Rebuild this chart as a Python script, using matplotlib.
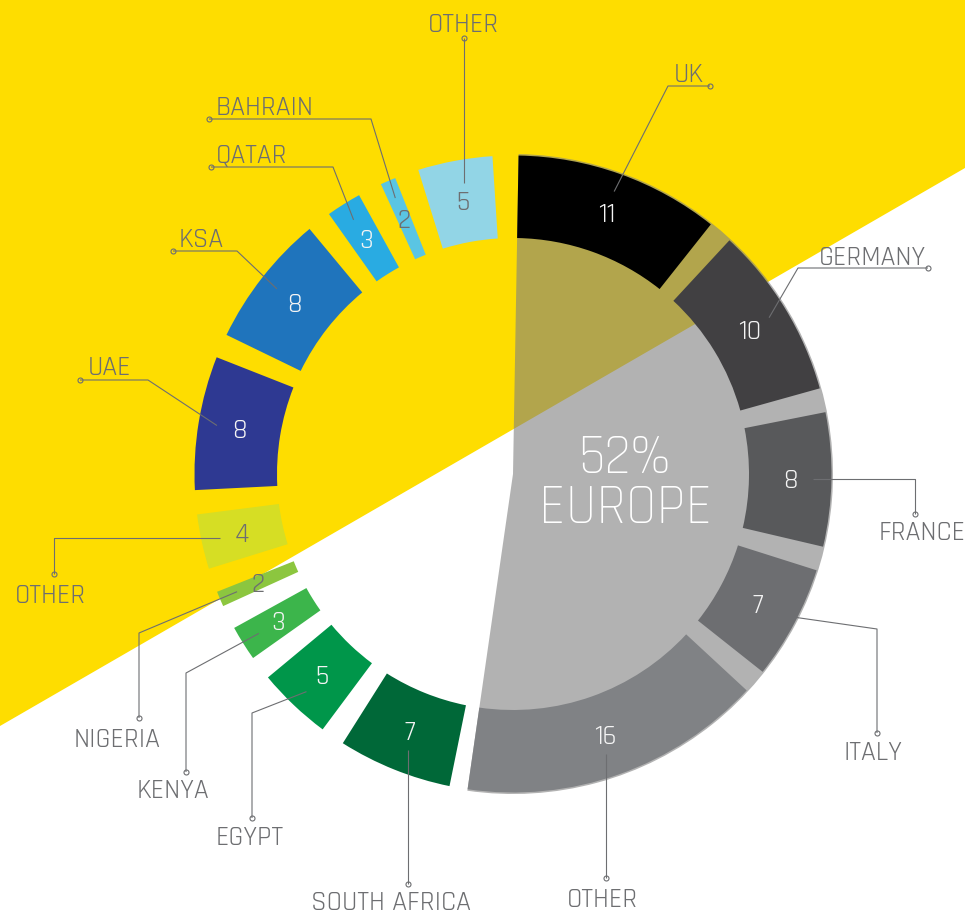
import numpy as np
import matplotlib
matplotlib.use("Agg")
import matplotlib.pyplot as plt
from matplotlib.patches import Wedge, Polygon

# ---------------- data ----------------
europe_labels = ["UK", "GERMANY", "FRANCE", "ITALY", "OTHER"]
europe_values = [11, 10, 8, 7, 16]
africa_labels = ["SOUTH AFRICA", "EGYPT", "KENYA", "NIGERIA", "OTHER"]
africa_values = [7, 5, 3, 2, 4]
me_labels = ["UAE", "KSA", "QATAR", "BAHRAIN", "OTHER"]
me_values = [8, 8, 3, 2, 5]
europe_share = 52  # percent
centre_text = ["52%", "EUROPE"]

# ---------------- styles ----------------
europe_colors = ["#000000", "#414042", "#58595b", "#6d6e71", "#808285"]
africa_colors = ["#006838", "#00964a", "#3cb54b", "#8cc63f", "#d6de24"]
me_colors = ["#2e3992", "#1f74bc", "#29abe2", "#5ac5e3", "#92d5e6"]
africa_num_colors = ["#f4f4f4", "#f4f4f4", "#f4f4f4", "#6d6e71", "#6d6e71"]
me_num_colors = ["#f4f4f4", "#f4f4f4", "#f4f4f4", "#6d6e71", "#6d6e71"]
europe_num_colors = ["#f4f4f4"] * 5
YELLOW = "#fedd00"
GREY_TXT = "#6d6e71"
FONT = "Rajdhani"

W, H = 965, 913
CX, CY = 513, 474
R_OUT, R_IN = 318.5, 236
DEG_PER_UNIT = 3.6
GAP = 4.4
EUROPE_START = 1.0
AFRICA_START = 189.3
ANCHOR_R = 300

fig = plt.figure(figsize=(W / 100, H / 100), dpi=100)
ax = fig.add_axes([0, 0, 1, 1])
ax.set_xlim(0, W)
ax.set_ylim(H, 0)
ax.axis("off")
fig.patch.set_facecolor("white")

# yellow diagonal background
ax.add_patch(Polygon([(0, 0), (W, 0), (W, 168), (0, 726)], closed=True,
                     facecolor=YELLOW, edgecolor="none", zorder=0))

# translucent grey europe wedge (52%)
eu_span = europe_share / 100 * 360
ax.add_patch(Wedge((CX, CY), R_OUT + 1.5, EUROPE_START - 90, EUROPE_START + eu_span - 90,
                   facecolor="#808080", alpha=0.6, edgecolor="none", zorder=1))


def pt(t, r):
    a = np.radians(t)
    return CX + r * np.sin(a), CY - r * np.cos(a)


segments = []  # (label, value, numcolor, mid angle)


def ring(labels, values, colors, numcolors, start, unit, outer_gaps=True):
    t = start
    n = len(values)
    for i, (lab, v, c, nc) in enumerate(zip(labels, values, colors, numcolors)):
        g0 = GAP / 2 if (outer_gaps or i > 0) else 0
        g1 = GAP / 2 if (outer_gaps or i < n - 1) else 0
        t0 = t + g0
        t1 = t + v * unit - g1
        ax.add_patch(Wedge((CX, CY), R_OUT, t0 - 90, t1 - 90, width=R_OUT - R_IN,
                           facecolor=c, edgecolor="none", zorder=2))
        segments.append((lab, v, nc, (t0 + t1) / 2))
        t += v * unit
    return t


ring(europe_labels, europe_values, europe_colors, europe_num_colors, EUROPE_START,
     eu_span / sum(europe_values), outer_gaps=False)
t_end = ring(africa_labels, africa_values, africa_colors, africa_num_colors, AFRICA_START, DEG_PER_UNIT)
ring(me_labels, me_values, me_colors, me_num_colors, t_end, DEG_PER_UNIT)

# value numbers
for lab, v, nc, tm in segments:
    x, y = pt(tm, (R_OUT + R_IN) / 2)
    ax.text(x, y + 9, str(v), color=nc, fontsize=20, family=FONT, weight=400,
            ha="center", va="baseline", zorder=5)

# leader lines: (elbow points, dot, label centre x, baseline y)
# elbow y None -> same y as anchor; "v" -> vertical line straight from the ring
leaders = [
    ([(668, 86)], (710, 86), 689, 82),          # UK
    ([(798, 268)], (928, 268), 872, 265),       # GERMANY
    ([(915, None)], (915, 514), 922, 540),      # FRANCE
    ([(877, 629)], (877, 733), 873, 760),       # ITALY
    ("v", (606, 878), 602, 907),                # OTHER (Europe)
    ("v", (408, 884), 391, 910),                # SOUTH AFRICA
    ([(252, 713)], (252, 818), 250, 845),       # EGYPT
    ([(186, 673)], (186, 772), 173, 798),       # KENYA
    ([(139, 633)], (139, 718), 117, 747),       # NIGERIA
    ([(54, None)], (54, 574), 50, 603),         # OTHER (Africa)
    ([(148, 380)], (80, 380), 109, 375),        # UAE
    ([(237, 251)], (173, 251), 201, 247),       # KSA
    ([(333, 167)], (211, 167), 252, 163),       # QATAR
    ([(371, 119)], (209, 119), 265, 115),       # BAHRAIN
    ("v", (464, 38), 463, 32),                  # OTHER (Middle East)
]

for (lab, v, nc, tm), (elbows, dot, lx, ly) in zip(segments, leaders):
    if elbows == "v":
        dx = dot[0] - CX
        dy = np.sqrt((ANCHOR_R - 5) ** 2 - dx ** 2)
        ay = CY + dy if dot[1] > CY else CY - dy
        pts = [(dot[0], ay), dot]
    else:
        ax_, ay_ = pt(tm, ANCHOR_R)
        pts = [(ax_, ay_)]
        for ex, ey in elbows:
            pts.append((ex, ay_ if ey is None else ey))
        pts.append(dot)
    xs, ys = zip(*pts)
    ax.plot(xs, ys, color=GREY_TXT, lw=0.8, zorder=4, solid_capstyle="butt")
    ax.plot([dot[0]], [dot[1]], marker="o", ms=3.6, mfc="none", mec=GREY_TXT, mew=0.8, zorder=4)
    ax.text(lx, ly, lab, color=GREY_TXT, fontsize=20, family=FONT, weight=400,
            ha="center", va="baseline", zorder=5)

# centre text
ax.text(624, 473, centre_text[0], color="white", fontsize=40, family=FONT, weight=300,
        ha="center", va="baseline", zorder=5)
ax.text(626, 523, centre_text[1], color="white", fontsize=40, family=FONT, weight=300,
        ha="center", va="baseline", zorder=5)

fig.savefig("out.png", dpi=100)
